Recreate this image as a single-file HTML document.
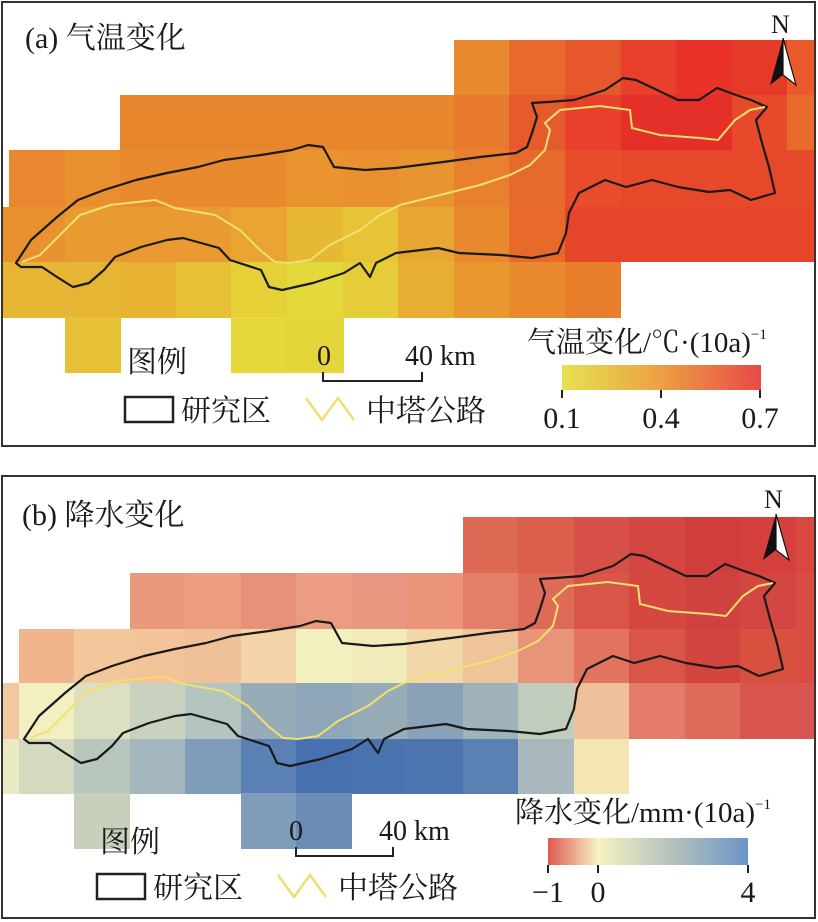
<!DOCTYPE html>
<html><head><meta charset="utf-8"><style>
html,body{margin:0;padding:0;background:#fff;}
svg{display:block;}
text{font-family:"Liberation Serif","Noto Serif CJK SC","Noto Sans CJK SC",serif;fill:#1a1a1a;}
</style></head><body>
<svg width="818" height="922" viewBox="0 0 818 922" xmlns="http://www.w3.org/2000/svg">
<defs>
<linearGradient id="ga" x1="0" x2="1" y1="0" y2="0">
<stop offset="0" stop-color="#e8e050"/><stop offset="0.5" stop-color="#eca044"/><stop offset="1" stop-color="#e84848"/>
</linearGradient>
<linearGradient id="gb" x1="0" x2="1" y1="0" y2="0">
<stop offset="0" stop-color="#de5a50"/><stop offset="0.25" stop-color="#f6f2c4"/><stop offset="0.6" stop-color="#b8c4bc"/><stop offset="1" stop-color="#6c94c8"/>
</linearGradient>
<g id="outline">
<path d="M16,263 L31,240 L57,217 L78,200 L104,190 L136,180 L167,173 L198,167 L224,160 L261,155 L292,150 L308,145 L323,147 L334,167 L365,170 L396,168 L443,162 L480,157 L516,153 L527,147 L532,133 L537,117 L532,103 L548,102 L574,100 L605,90 L623,78 L636,80 L657,90 L678,100 L699,100 L717,88 L736,95 L751,100 L767,107 L756,120 L762,143 L769,167 L775,193 L751,200 L730,190 L709,192 L678,187 L652,180 L626,187 L605,180 L579,193 L569,213 L566,233 L558,253 L532,258 L501,255 L459,253 L438,248 L396,253 L376,263 L370,277 L360,263 L344,273 L313,283 L282,290 L269,287 L261,270 L230,260 L219,248 L183,238 L167,240 L141,247 L115,257 L104,270 L89,283 L73,287 L57,277 L42,267 L21,267 Z" fill="none" stroke="#1a1a1a" stroke-width="2.2" stroke-linejoin="round"/>
<path d="M22,262 L40,255 L60,235 L80,215 L110,205 L155,200 L175,208 L215,215 L240,230 L260,250 L275,262 L290,263 L310,260 L330,245 L360,230 L380,215 L400,205 L440,195 L480,185 L510,175 L530,165 L538,157 L545,150 L550,130 L545,123 L560,110 L600,106 L630,110 L632,128 L660,135 L700,138 L718,140 L735,120 L750,110 L765,107" fill="none" stroke="#f0e070" stroke-width="2"/>
</g>
</defs>

<!-- Panel A grid -->
<g shape-rendering="crispEdges">
<!-- row1 y40-95 -->
<rect x="454" y="40" width="56" height="56" fill="#e98a2e"/>
<rect x="509" y="40" width="57" height="56" fill="#e9692c"/>
<rect x="565" y="40" width="57" height="56" fill="#e6572c"/>
<rect x="621" y="40" width="56" height="56" fill="#e8402a"/>
<rect x="676" y="40" width="57" height="56" fill="#e8322a"/>
<rect x="732" y="40" width="56" height="56" fill="#e63a29"/>
<rect x="787" y="40" width="28" height="56" fill="#ea5a2b"/>
<!-- row2 y95-150 -->
<rect x="120" y="95" width="335" height="56" fill="#e8862e"/>
<rect x="454" y="95" width="56" height="56" fill="#e87a2d"/>
<rect x="509" y="95" width="57" height="56" fill="#e55b2c"/>
<rect x="565" y="95" width="57" height="56" fill="#e8402a"/>
<rect x="621" y="95" width="112" height="56" fill="#e52f29"/>
<rect x="732" y="95" width="56" height="56" fill="#e64a2b"/>
<rect x="787" y="95" width="28" height="56" fill="#ea6a2b"/>
<!-- row3 y150-207 -->
<rect x="9" y="150" width="57" height="57" fill="#e98630"/>
<rect x="65" y="150" width="56" height="57" fill="#e98f30"/>
<rect x="120" y="150" width="168" height="57" fill="#ea8a2e"/>
<rect x="287" y="150" width="57" height="57" fill="#ea9430"/>
<rect x="343" y="150" width="56" height="57" fill="#ea9030"/>
<rect x="398" y="150" width="57" height="57" fill="#e8952f"/>
<rect x="454" y="150" width="56" height="57" fill="#e8802e"/>
<rect x="509" y="150" width="57" height="57" fill="#e66a2b"/>
<rect x="565" y="150" width="57" height="57" fill="#e84e2b"/>
<rect x="621" y="150" width="194" height="57" fill="#e6482a"/>
<!-- row4 y207-262 -->
<rect x="2" y="207" width="8" height="55" fill="#e9902f"/>
<rect x="9" y="207" width="57" height="55" fill="#e8922f"/>
<rect x="65" y="207" width="167" height="55" fill="#e99a31"/>
<rect x="231" y="207" width="57" height="55" fill="#e9a432"/>
<rect x="287" y="207" width="57" height="55" fill="#e6b833"/>
<rect x="343" y="207" width="56" height="55" fill="#e6c436"/>
<rect x="398" y="207" width="57" height="55" fill="#e8a633"/>
<rect x="454" y="207" width="56" height="55" fill="#e98a2e"/>
<rect x="509" y="207" width="57" height="55" fill="#e76a2b"/>
<rect x="565" y="207" width="250" height="55" fill="#e6452a"/>
<!-- row5 y262-317 -->
<rect x="2" y="262" width="119" height="56" fill="#e6b534"/>
<rect x="120" y="262" width="57" height="56" fill="#e8b333"/>
<rect x="176" y="262" width="56" height="56" fill="#e6c037"/>
<rect x="231" y="262" width="57" height="56" fill="#e6d038"/>
<rect x="287" y="262" width="57" height="56" fill="#e3d83c"/>
<rect x="343" y="262" width="56" height="56" fill="#e5cc38"/>
<rect x="398" y="262" width="57" height="56" fill="#e8ae33"/>
<rect x="454" y="262" width="56" height="56" fill="#e9982f"/>
<rect x="509" y="262" width="57" height="56" fill="#e98a2e"/>
<rect x="565" y="262" width="56" height="56" fill="#e97e2d"/>
<!-- row6 y317-373 -->
<rect x="65" y="317" width="56" height="56" fill="#e6c036"/>
<rect x="231" y="317" width="57" height="56" fill="#e6d83b"/>
<rect x="287" y="317" width="57" height="56" fill="#e4d53b"/>
</g>
<use href="#outline"/>

<!-- Panel A decorations -->
<rect x="2" y="2" width="813" height="444" fill="none" stroke="#333" stroke-width="2"/>
<text x="25" y="48" font-size="30">(a) 气温变化</text>
<text x="771" y="33" font-size="26">N</text>
<polygon points="783,38 770,85 783,75" fill="#111"/>
<polygon points="783,38 796,85 783,75" fill="#fff" stroke="#111" stroke-width="1.2"/>
<text x="127" y="372" font-size="30">图例</text>
<text x="317" y="365" font-size="28">0</text>
<text x="405" y="365" font-size="28">40 km</text>
<path d="M323,372 V381 H422 V372" fill="none" stroke="#222" stroke-width="2"/>
<rect x="125" y="397" width="48" height="25" fill="none" stroke="#222" stroke-width="2.5"/>
<text x="181" y="421" font-size="30">研究区</text>
<path d="M306,398 L322,420 L338,398 L354,420" transform="translate(0,0)" fill="none" stroke="#eee070" stroke-width="2.5"/>
<text x="366" y="421" font-size="30">中塔公路</text>
<text x="527" y="352" font-size="29">气温变化/℃·(10a)<tspan font-size="15" dy="-13">−1</tspan></text>
<rect x="562" y="365" width="199" height="25" fill="url(#ga)"/>
<path d="M562,390v8M661,390v8M760,390v8" stroke="#222" stroke-width="2"/>
<text x="562" y="428" font-size="30" text-anchor="middle">0.1</text>
<text x="661" y="428" font-size="30" text-anchor="middle">0.4</text>
<text x="760" y="428" font-size="30" text-anchor="middle">0.7</text>

<!-- Panel B grid -->
<g shape-rendering="crispEdges">
<!-- row1 y517-573 -->
<rect x="463" y="517" width="56" height="57" fill="#de6a55"/>
<rect x="518" y="517" width="57" height="57" fill="#dc5e4d"/>
<rect x="574" y="517" width="56" height="57" fill="#d65048"/>
<rect x="629" y="517" width="57" height="57" fill="#d44640"/>
<rect x="685" y="517" width="56" height="57" fill="#d03d3a"/>
<rect x="740" y="517" width="57" height="57" fill="#d5403c"/>
<rect x="796" y="517" width="19" height="57" fill="#d8483e"/>
<!-- row2 y573-629 -->
<rect x="130" y="573" width="56" height="56" fill="#e99a7c"/>
<rect x="185" y="573" width="57" height="56" fill="#ec9d7e"/>
<rect x="241" y="573" width="56" height="56" fill="#e9907a"/>
<rect x="296" y="573" width="57" height="56" fill="#ec9c80"/>
<rect x="352" y="573" width="56" height="56" fill="#e99680"/>
<rect x="407" y="573" width="57" height="56" fill="#ec9478"/>
<rect x="463" y="573" width="56" height="56" fill="#e47e68"/>
<rect x="518" y="573" width="57" height="56" fill="#de6a58"/>
<rect x="574" y="573" width="56" height="56" fill="#d85548"/>
<rect x="629" y="573" width="57" height="56" fill="#d5483f"/>
<rect x="685" y="573" width="56" height="56" fill="#d04240"/>
<rect x="740" y="573" width="57" height="56" fill="#d34641"/>
<rect x="796" y="573" width="19" height="56" fill="#d84c44"/>
<!-- row3 y629-683 -->
<rect x="19" y="629" width="56" height="55" fill="#f0b58c"/>
<rect x="74" y="629" width="57" height="55" fill="#f2c79b"/>
<rect x="130" y="629" width="56" height="55" fill="#f3c39a"/>
<rect x="185" y="629" width="57" height="55" fill="#f0c099"/>
<rect x="241" y="629" width="56" height="55" fill="#f4d3a8"/>
<rect x="296" y="629" width="57" height="55" fill="#f3f0c0"/>
<rect x="352" y="629" width="56" height="55" fill="#f1ebbc"/>
<rect x="407" y="629" width="57" height="55" fill="#f2d7a8"/>
<rect x="463" y="629" width="56" height="55" fill="#f0c49a"/>
<rect x="518" y="629" width="57" height="55" fill="#e89478"/>
<rect x="574" y="629" width="56" height="55" fill="#e27460"/>
<rect x="629" y="629" width="57" height="55" fill="#d85548"/>
<rect x="685" y="629" width="56" height="55" fill="#d3463f"/>
<rect x="740" y="629" width="57" height="55" fill="#d8513f"/>
<rect x="796" y="629" width="19" height="55" fill="#d84c44"/>
<!-- row4 y683-739 -->
<rect x="2" y="683" width="18" height="56" fill="#f2c8a0"/>
<rect x="19" y="683" width="56" height="56" fill="#f2efc0"/>
<rect x="74" y="683" width="57" height="56" fill="#dde0c0"/>
<rect x="130" y="683" width="56" height="56" fill="#c9d2be"/>
<rect x="185" y="683" width="57" height="56" fill="#b4c4be"/>
<rect x="241" y="683" width="56" height="56" fill="#98acb8"/>
<rect x="296" y="683" width="57" height="56" fill="#8ea6b8"/>
<rect x="352" y="683" width="56" height="56" fill="#98acb8"/>
<rect x="407" y="683" width="57" height="56" fill="#8aa2b8"/>
<rect x="463" y="683" width="56" height="56" fill="#a0b2ba"/>
<rect x="518" y="683" width="57" height="56" fill="#c0ccbc"/>
<rect x="574" y="683" width="56" height="56" fill="#f0c09a"/>
<rect x="629" y="683" width="57" height="56" fill="#e47a68"/>
<rect x="685" y="683" width="56" height="56" fill="#de6a58"/>
<rect x="740" y="683" width="75" height="56" fill="#d85550"/>
<!-- row5 y739-793 -->
<rect x="2" y="739" width="18" height="55" fill="#eceac2"/>
<rect x="19" y="739" width="56" height="55" fill="#d4dac0"/>
<rect x="74" y="739" width="57" height="55" fill="#b8c6be"/>
<rect x="130" y="739" width="56" height="55" fill="#a4b6be"/>
<rect x="185" y="739" width="57" height="55" fill="#7f9cba"/>
<rect x="241" y="739" width="56" height="55" fill="#5b80b4"/>
<rect x="296" y="739" width="57" height="55" fill="#4670ae"/>
<rect x="352" y="739" width="56" height="55" fill="#4a74b0"/>
<rect x="407" y="739" width="57" height="55" fill="#4d76b0"/>
<rect x="463" y="739" width="56" height="55" fill="#5b80b4"/>
<rect x="518" y="739" width="57" height="55" fill="#a8b8bc"/>
<rect x="574" y="739" width="55" height="55" fill="#f4e6b2"/>
<!-- row6 y793-849 -->
<rect x="74" y="793" width="56" height="56" fill="#c8d0bc"/>
<rect x="241" y="793" width="56" height="56" fill="#7f9cbb"/>
<rect x="296" y="793" width="56" height="56" fill="#6a8cb6"/>
</g>
<use href="#outline" transform="translate(8,476)"/>

<!-- Panel B decorations -->
<rect x="2" y="476" width="813" height="442" fill="none" stroke="#333" stroke-width="2"/>
<text x="22" y="525" font-size="30">(b) 降水变化</text>
<text x="764" y="508" font-size="26">N</text>
<polygon points="776,514 763,560 776,550" fill="#111"/>
<polygon points="776,514 789,560 776,550" fill="#fff" stroke="#111" stroke-width="1.2"/>
<text x="100" y="852" font-size="30">图例</text>
<text x="289" y="840" font-size="28">0</text>
<text x="379" y="840" font-size="28">40 km</text>
<path d="M296,847 V856 H393 V847" fill="none" stroke="#222" stroke-width="2"/>
<rect x="97" y="874" width="48" height="25" fill="none" stroke="#222" stroke-width="2.5"/>
<text x="153" y="898" font-size="30">研究区</text>
<path d="M278,875 L294,897 L310,875 L326,897" fill="none" stroke="#eee070" stroke-width="2.5"/>
<text x="338" y="898" font-size="30">中塔公路</text>
<text x="515" y="822" font-size="29">降水变化/mm·(10a)<tspan font-size="15" dy="-13">−1</tspan></text>
<rect x="548" y="838" width="200" height="27" fill="url(#gb)"/>
<path d="M548,865v8M598,865v8M748,865v8" stroke="#222" stroke-width="2"/>
<text x="548" y="902" font-size="30" text-anchor="middle">−1</text>
<text x="598" y="902" font-size="30" text-anchor="middle">0</text>
<text x="748" y="902" font-size="30" text-anchor="middle">4</text>
</svg>
</body></html>
